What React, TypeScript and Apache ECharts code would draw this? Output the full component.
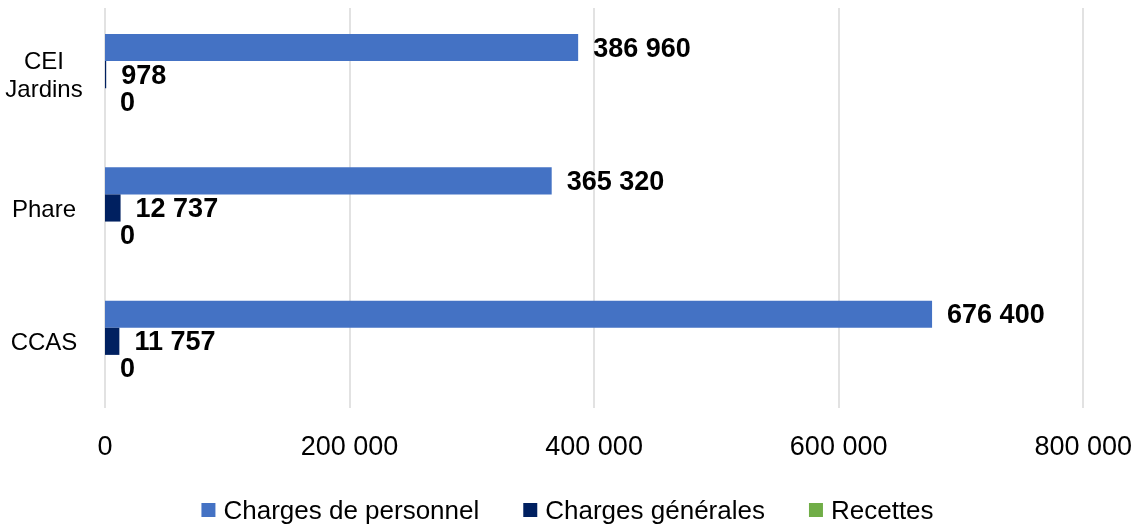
import React, { useEffect, useRef } from "react";
import * as echarts from "echarts";

const categories = ["CEI\nJardins", "Phare", "CCAS"];
const chargesPersonnel = [386960, 365320, 676400];
const chargesGenerales = [978, 12737, 11757];
const recettes = [0, 0, 0];
const seriesNames = ["Charges de personnel", "Charges générales", "Recettes"];
const colors = ["#4472C4", "#002060", "#70AD47"];

const FONT = "'Liberation Sans', Arial, sans-serif";

const fmt = (v: number) => String(v).replace(/\B(?=(\d{3})+(?!\d))/g, " ");

export default function App() {
  const ref = useRef<HTMLDivElement>(null);
  useEffect(() => {
    if (!ref.current) return;
    const chart = echarts.init(ref.current, null, { renderer: "svg" });
    const label = {
      show: true,
      position: "right" as const,
      distance: 15,
      fontFamily: FONT,
      fontWeight: "bold" as const,
      fontSize: 27,
      color: "#000",
      formatter: (p: any) => fmt(p.value),
    };
    const data = [chargesPersonnel, chargesGenerales, recettes];
    chart.setOption({
      animation: false,
      textStyle: { fontFamily: FONT },
      grid: { left: 105, right: 48, top: 8, bottom: 119, containLabel: false },
      legend: {
        top: 492,
        left: "center",
        itemWidth: 14,
        itemHeight: 14,
        itemGap: 44,
        icon: "rect",
        textStyle: { fontFamily: FONT, fontSize: 26, color: "#000", padding: [0, 0, 0, 3] },
        data: seriesNames,
      },
      xAxis: {
        type: "value",
        min: 0,
        max: 800000,
        interval: 200000,
        axisLine: { show: false },
        axisTick: { show: false },
        splitLine: { show: true, lineStyle: { color: "#d9d9d9", width: 1.5 } },
        axisLabel: {
          margin: 24,
          fontFamily: FONT,
          fontSize: 27,
          color: "#000",
          formatter: (v: number) => fmt(v),
        },
      },
      yAxis: {
        type: "category",
        inverse: true,
        data: categories,
        axisLine: { show: false },
        axisTick: { show: false },
        axisLabel: {
          margin: 61,
          align: "center",
          fontFamily: FONT,
          fontSize: 24,
          lineHeight: 28,
          color: "#000",
        },
      },
      series: seriesNames.map((name, i) => ({
        name,
        type: "bar",
        data: data[i],
        itemStyle: { color: colors[i] },
        barGap: "0%",
        barCategoryGap: "39%",
        label,
      })),
    });
    return () => chart.dispose();
  }, []);
  return (
    <div
      ref={ref}
      style={{ position: "fixed", left: 0, top: 0, width: 1135, height: 527 }}
    />
  );
}
